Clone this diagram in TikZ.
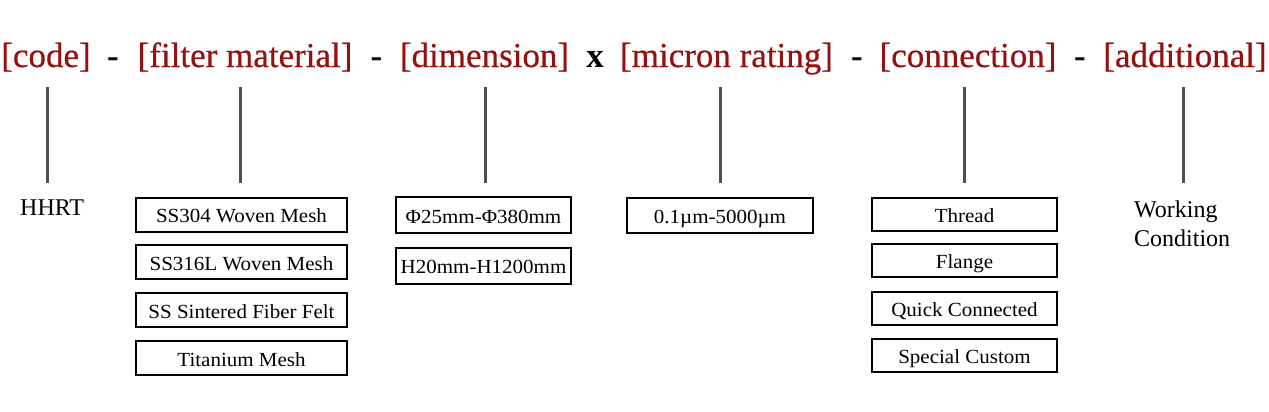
\documentclass[tikz,border=0pt]{standalone}
\usepackage{fontspec}
\setmainfont{Liberation Serif}
\newfontfamily\boxfont[FakeStretch=1.05]{Liberation Serif}
\newfontfamily\hdrfont[FakeBold=0.5]{Liberation Serif}
\definecolor{hdrred}{RGB}{150,16,16}
\definecolor{linegrey}{RGB}{80,80,80}
\tikzset{
  hdr/.style={text=hdrred, font=\hdrfont\fontsize{35}{40}\selectfont, anchor=base, inner sep=0pt},
  sepmark/.style={text=black, font=\bfseries\fontsize{35}{40}\selectfont, anchor=base, inner sep=0pt},
  itembox/.style={draw=black, line width=2pt, inner sep=0pt, font=\boxfont\fontsize{20}{24}\selectfont,
    text height=20pt, text depth=4pt, minimum height=34pt},
  plain/.style={font=\fontsize{24}{29}\selectfont, inner sep=0pt},
  link/.style={draw=linegrey, line width=3pt}
}
\begin{document}
\begin{tikzpicture}[x=1pt,y=-1pt]
\useasboundingbox[fill=white] (0,0) rectangle (1269,412);

% header
\node[hdr] (hcode) at (46,67) {[code]};
\node[sepmark] (d1) at (113,67) {-};
\node[hdr] (hfilt) at (245,67) {[filter material]};
\node[sepmark] (d2) at (376.5,67) {-};
\node[hdr] (hdim) at (484.5,67) {[dimension]};
\node[sepmark] (xx) at (595,67) {x};
\node[hdr] (hmic) at (726.5,67) {[micron rating]};
\node[sepmark] (d3) at (857,67) {-};
\node[hdr] (hcon) at (968,67) {[connection]};
\node[sepmark] (d4) at (1080,67) {-};
\node[hdr] (hadd) at (1185,67) {[additional]};

% connector ends
\coordinate (t1) at (47,87);   \coordinate (b1) at (47,183);
\coordinate (t2) at (240,87);  \coordinate (b2) at (240,183);
\coordinate (t3) at (485,87);  \coordinate (b3) at (485,183);
\coordinate (t4) at (720,87);  \coordinate (b4) at (720,183);
\coordinate (t5) at (964,87);  \coordinate (b5) at (964,183);
\coordinate (t6) at (1183,87); \coordinate (b6) at (1183,183);
\foreach \i in {1,...,6} { \draw[link] (t\i) -- (b\i); }

% code
\node[plain, anchor=base west] (hhrt) at (20,215) {HHRT};

% filter material
\begin{scope}[every node/.append style={itembox, minimum width=211pt}]
\node (f1) at (241.5,214.5) {SS304 Woven Mesh};
\node (f2) at (241.5,262) {SS316L Woven Mesh};
\node (f3) at (241.5,310) {SS Sintered Fiber Felt};
\node (f4) at (241.5,358) {Titanium Mesh};
\end{scope}

% dimension
\begin{scope}[every node/.append style={itembox, minimum width=175pt, minimum height=36pt}]
\node (m1) at (483.5,215) {Φ25mm-Φ380mm};
\node (m2) at (483.5,265.5) {H20mm-H1200mm};
\end{scope}

% micron
\node[itembox, minimum width=186pt, minimum height=35pt] (r1) at (720,215) {0.1µm-5000µm};

% connection
\begin{scope}[every node/.append style={itembox, minimum width=185pt, minimum height=33pt}]
\node (c1) at (964.5,214) {Thread};
\node (c2) at (964.5,260.5) {Flange};
\node (c3) at (964.5,308) {Quick Connected};
\node (c4) at (964.5,355.5) {Special Custom};
\end{scope}

% additional
\node[plain, anchor=base west] (wc1) at (1134,217) {Working};
\node[plain, anchor=base west] (wc2) at (1134,246) {Condition};
\end{tikzpicture}
\end{document}
